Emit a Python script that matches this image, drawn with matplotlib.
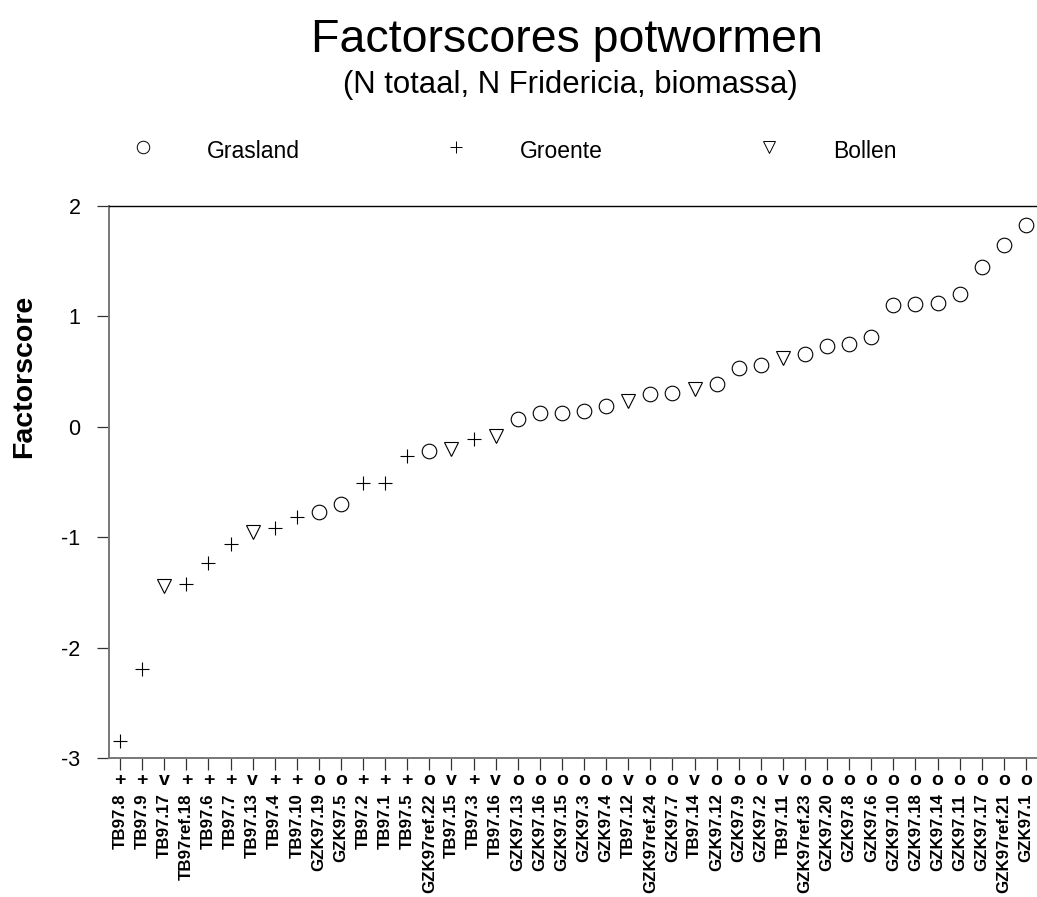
import numpy as np
import matplotlib
matplotlib.use("Agg")
import matplotlib.pyplot as plt
from matplotlib.lines import Line2D
import matplotlib.transforms as mtransforms

plt.rcParams['font.family'] = ['Liberation Sans', 'DejaVu Sans']

# samples sorted by factor score
names = ['TB97.8', 'TB97.9', 'TB97.17', 'TB97ref.18', 'TB97.6', 'TB97.7', 'TB97.13',
         'TB97.4', 'TB97.10', 'GZK97.19', 'GZK97.5', 'TB97.2', 'TB97.1', 'TB97.5',
         'GZK97ref.22', 'TB97.15', 'TB97.3', 'TB97.16', 'GZK97.13', 'GZK97.16',
         'GZK97.15', 'GZK97.3', 'GZK97.4', 'TB97.12', 'GZK97ref.24', 'GZK97.7',
         'TB97.14', 'GZK97.12', 'GZK97.9', 'GZK97.2', 'TB97.11', 'GZK97ref.23',
         'GZK97.20', 'GZK97.8', 'GZK97.6', 'GZK97.10', 'GZK97.18', 'GZK97.14',
         'GZK97.11', 'GZK97.17', 'GZK97ref.21', 'GZK97.1']
# G = Grasland, V = Groente, B = Bollen
groups = ['V', 'V', 'B', 'V', 'V', 'V', 'B', 'V', 'V', 'G', 'G', 'V', 'V', 'V',
          'G', 'B', 'V', 'B', 'G', 'G', 'G', 'G', 'G', 'B', 'G', 'G', 'B', 'G',
          'G', 'G', 'B', 'G', 'G', 'G', 'G', 'G', 'G', 'G', 'G', 'G', 'G', 'G']
scores = [-2.85, -2.19, -1.44, -1.42, -1.23, -1.06, -0.95, -0.92, -0.82, -0.77,
          -0.70, -0.51, -0.51, -0.26, -0.22, -0.20, -0.11, -0.085, 0.07, 0.125,
          0.127, 0.14, 0.187, 0.232, 0.293, 0.308, 0.338, 0.392, 0.534, 0.558,
          0.625, 0.655, 0.73, 0.752, 0.815, 1.10, 1.115, 1.123, 1.20, 1.45,
          1.645, 1.83]

group_names = {'G': 'Grasland', 'V': 'Groente', 'B': 'Bollen'}
group_markers = {'G': 'o', 'V': '+', 'B': 'v'}
group_chars = {'G': 'o', 'V': '+', 'B': 'v'}

W, H = 1037, 897
fig = plt.figure(figsize=(W / 100, H / 100), dpi=100)
ax = fig.add_axes([109 / W, 1 - 758 / H, (1037 - 109) / W, (758 - 206) / H])

x = np.arange(1, len(names) + 1)
y = np.array(scores)
for g in ['G', 'V', 'B']:
    idx = [i for i, gg in enumerate(groups) if gg == g]
    ax.plot(x[idx], y[idx], linestyle='none', marker=group_markers[g],
            markersize=10.5, markerfacecolor='none', markeredgecolor='black',
            markeredgewidth=0.8, clip_on=False)

ax.set_xlim(0.5, 42.5)
ax.set_ylim(-3, 2)
ax.set_yticks([-3, -2, -1, 0, 1, 2])
ax.set_yticklabels(['-3', '-2', '-1', '0', '1', '2'], fontsize=15.5)
ax.set_xticks(x)
ax.set_xticklabels(names, rotation=90, fontsize=12.2, fontweight='bold')
ax.tick_params(axis='x', length=8.6, width=0.9, pad=17, color='#333333')
ax.tick_params(axis='y', length=8.6, width=0.9, pad=12, color='#333333')

ax.spines['right'].set_visible(False)
ax.spines['top'].set_color('black')
ax.spines['top'].set_linewidth(1.0)
for s in ['left', 'bottom']:
    ax.spines[s].set_color('#777777')
    ax.spines[s].set_linewidth(1.4)

# group symbol under each tick
trans = mtransforms.blended_transform_factory(ax.transData, ax.transAxes)
for xi, g in zip(x, groups):
    ax.text(xi, -22 / 552, group_chars[g], transform=trans, ha='center',
            va='center', fontsize=14, fontweight='bold', clip_on=False)

fig.text(24 / W, 1 - 376 / H, 'Factorscore', rotation=90, ha='center',
         va='center', fontsize=20.5, fontweight='bold')

fig.text(567 / W, 1 - 40 / H, 'Factorscores potwormen', ha='center',
         va='center', fontsize=33.5)
fig.text(570 / W, 1 - 85 / H, '(N totaal, N Fridericia, biomassa)',
         ha='center', va='center', fontsize=22.4)

# legend row
leg_x = {'G': 143, 'V': 456, 'B': 769}
for g in ['G', 'V', 'B']:
    fig.add_artist(Line2D([leg_x[g] / W], [1 - 147 / H], transform=fig.transFigure,
                          marker=group_markers[g], markersize=9, linestyle='none',
                          markerfacecolor='none', markeredgecolor='black',
                          markeredgewidth=0.7))
    fig.text((leg_x[g] + 64) / W, 1 - 152 / H, group_names[g], ha='left',
             va='center', fontsize=16.5)

fig.savefig('out.png', dpi=100)
